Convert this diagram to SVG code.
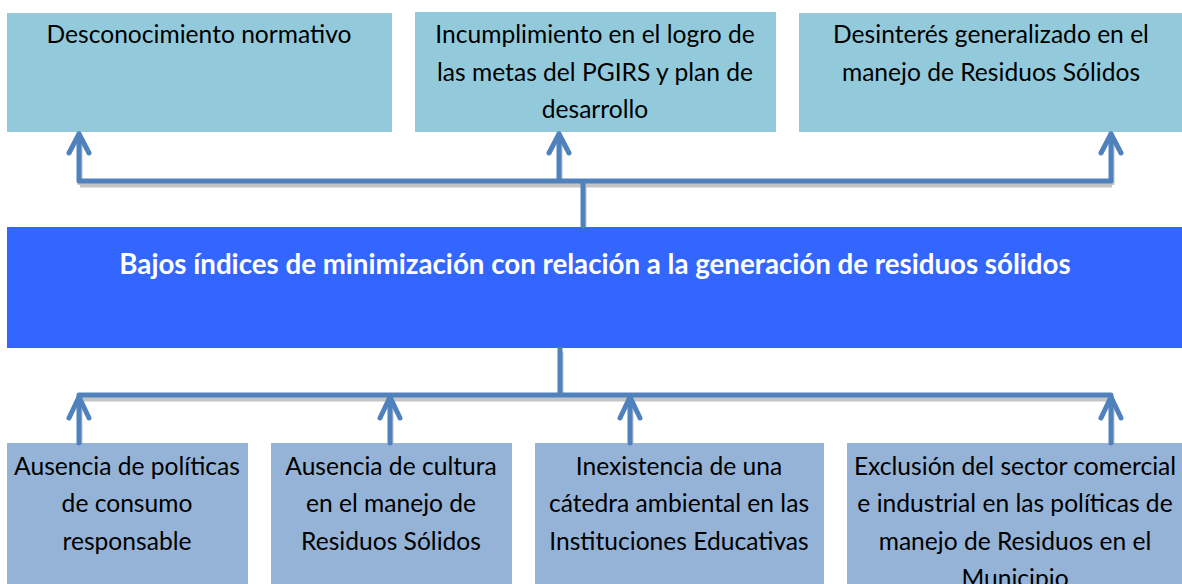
<svg xmlns="http://www.w3.org/2000/svg" width="1182" height="584" viewBox="0 0 1182 584">
<style>
.top{fill:#92CADC}
.bot{fill:#95B3D7}
.main{fill:#3366FF}
.t{font-family:Lato,"Open Sans","Liberation Sans",sans-serif;font-size:24.6px;fill:#000;text-anchor:middle}
.mt{font-family:Lato,"Open Sans","Liberation Sans",sans-serif;font-size:27.7px;font-weight:bold;fill:#fff;text-anchor:middle}
.ln{fill:none;stroke:#4F81BD;stroke-width:5;stroke-linecap:round;stroke-linejoin:round}
.sh{fill:none;stroke:#C4C4C4;stroke-width:5;stroke-linejoin:round}
</style>
<rect width="1182" height="584" fill="#fff"/>
<g id="n-desconocimiento"><rect class="top" x="7" y="13" width="385" height="119"/><text class="t" x="199" y="43">Desconocimiento normativo</text></g>
<g id="n-incumplimiento"><rect class="top" x="415" y="12" width="361" height="120"/><text class="t" x="595" y="43">Incumplimiento en el logro de</text><text class="t" x="595" y="81">las metas del PGIRS y plan de</text><text class="t" x="595" y="118">desarrollo</text></g>
<g id="n-desinteres"><rect class="top" x="799" y="13" width="383" height="119"/><text class="t" x="991" y="43">Desinterés generalizado en el</text><text class="t" x="991" y="81">manejo de Residuos Sólidos</text></g>
<g id="n-main"><rect class="main" x="7" y="227" width="1175" height="121"/><text class="mt" x="595" y="274">Bajos índices de minimización con relación a la generación  de residuos sólidos</text></g>
<g id="n-ausencia-politicas"><rect class="bot" x="7" y="443" width="241" height="141"/><text class="t" x="127" y="475">Ausencia de políticas</text><text class="t" x="127" y="512">de consumo</text><text class="t" x="127" y="550">responsable</text></g>
<g id="n-ausencia-cultura"><rect class="bot" x="271" y="443" width="241" height="141"/><text class="t" x="391" y="475">Ausencia de cultura</text><text class="t" x="391" y="512">en el manejo de</text><text class="t" x="391" y="550">Residuos Sólidos</text></g>
<g id="n-inexistencia"><rect class="bot" x="535" y="443" width="289" height="141"/><text class="t" x="679" y="475">Inexistencia de una</text><text class="t" x="679" y="512">cátedra ambiental en las</text><text class="t" x="679" y="550">Instituciones Educativas</text></g>
<g id="n-exclusion"><rect class="bot" x="847" y="443" width="335" height="141"/><text class="t" x="1015" y="475">Exclusión del sector comercial</text><text class="t" x="1015" y="512">e industrial en las políticas de</text><text class="t" x="1015" y="550">manejo  de Residuos en el</text><text class="t" x="1015" y="587">Municipio</text></g>
<g id="connectors">
<g transform="translate(1,4)">
<path class="sh" d="M79 181H1111M583 181V223M79 181V135M559 181V135M1111 181V135"/>
<path class="sh" d="M560 348V395M79 395H1111M79 395V439M390 395V439M630 395V439M1111 395V439"/>
</g>
<path class="ln" d="M79 181H1111M583 181V226M79 181V134M559 181V134M1111 181V134"/>
<path class="ln" d="M69 153L79 134L89 153M549 153L559 134L569 153M1101 153L1111 134L1121 153"/>
<path class="ln" d="M560 349V395M79 395H1111M79 396V443M390 396V443M630 396V443M1111 396V443"/>
<path class="ln" d="M69 418L79 397L89 418M380 418L390 397L400 418M620 418L630 397L640 418M1101 418L1111 397L1121 418"/>
</g>
</svg>
